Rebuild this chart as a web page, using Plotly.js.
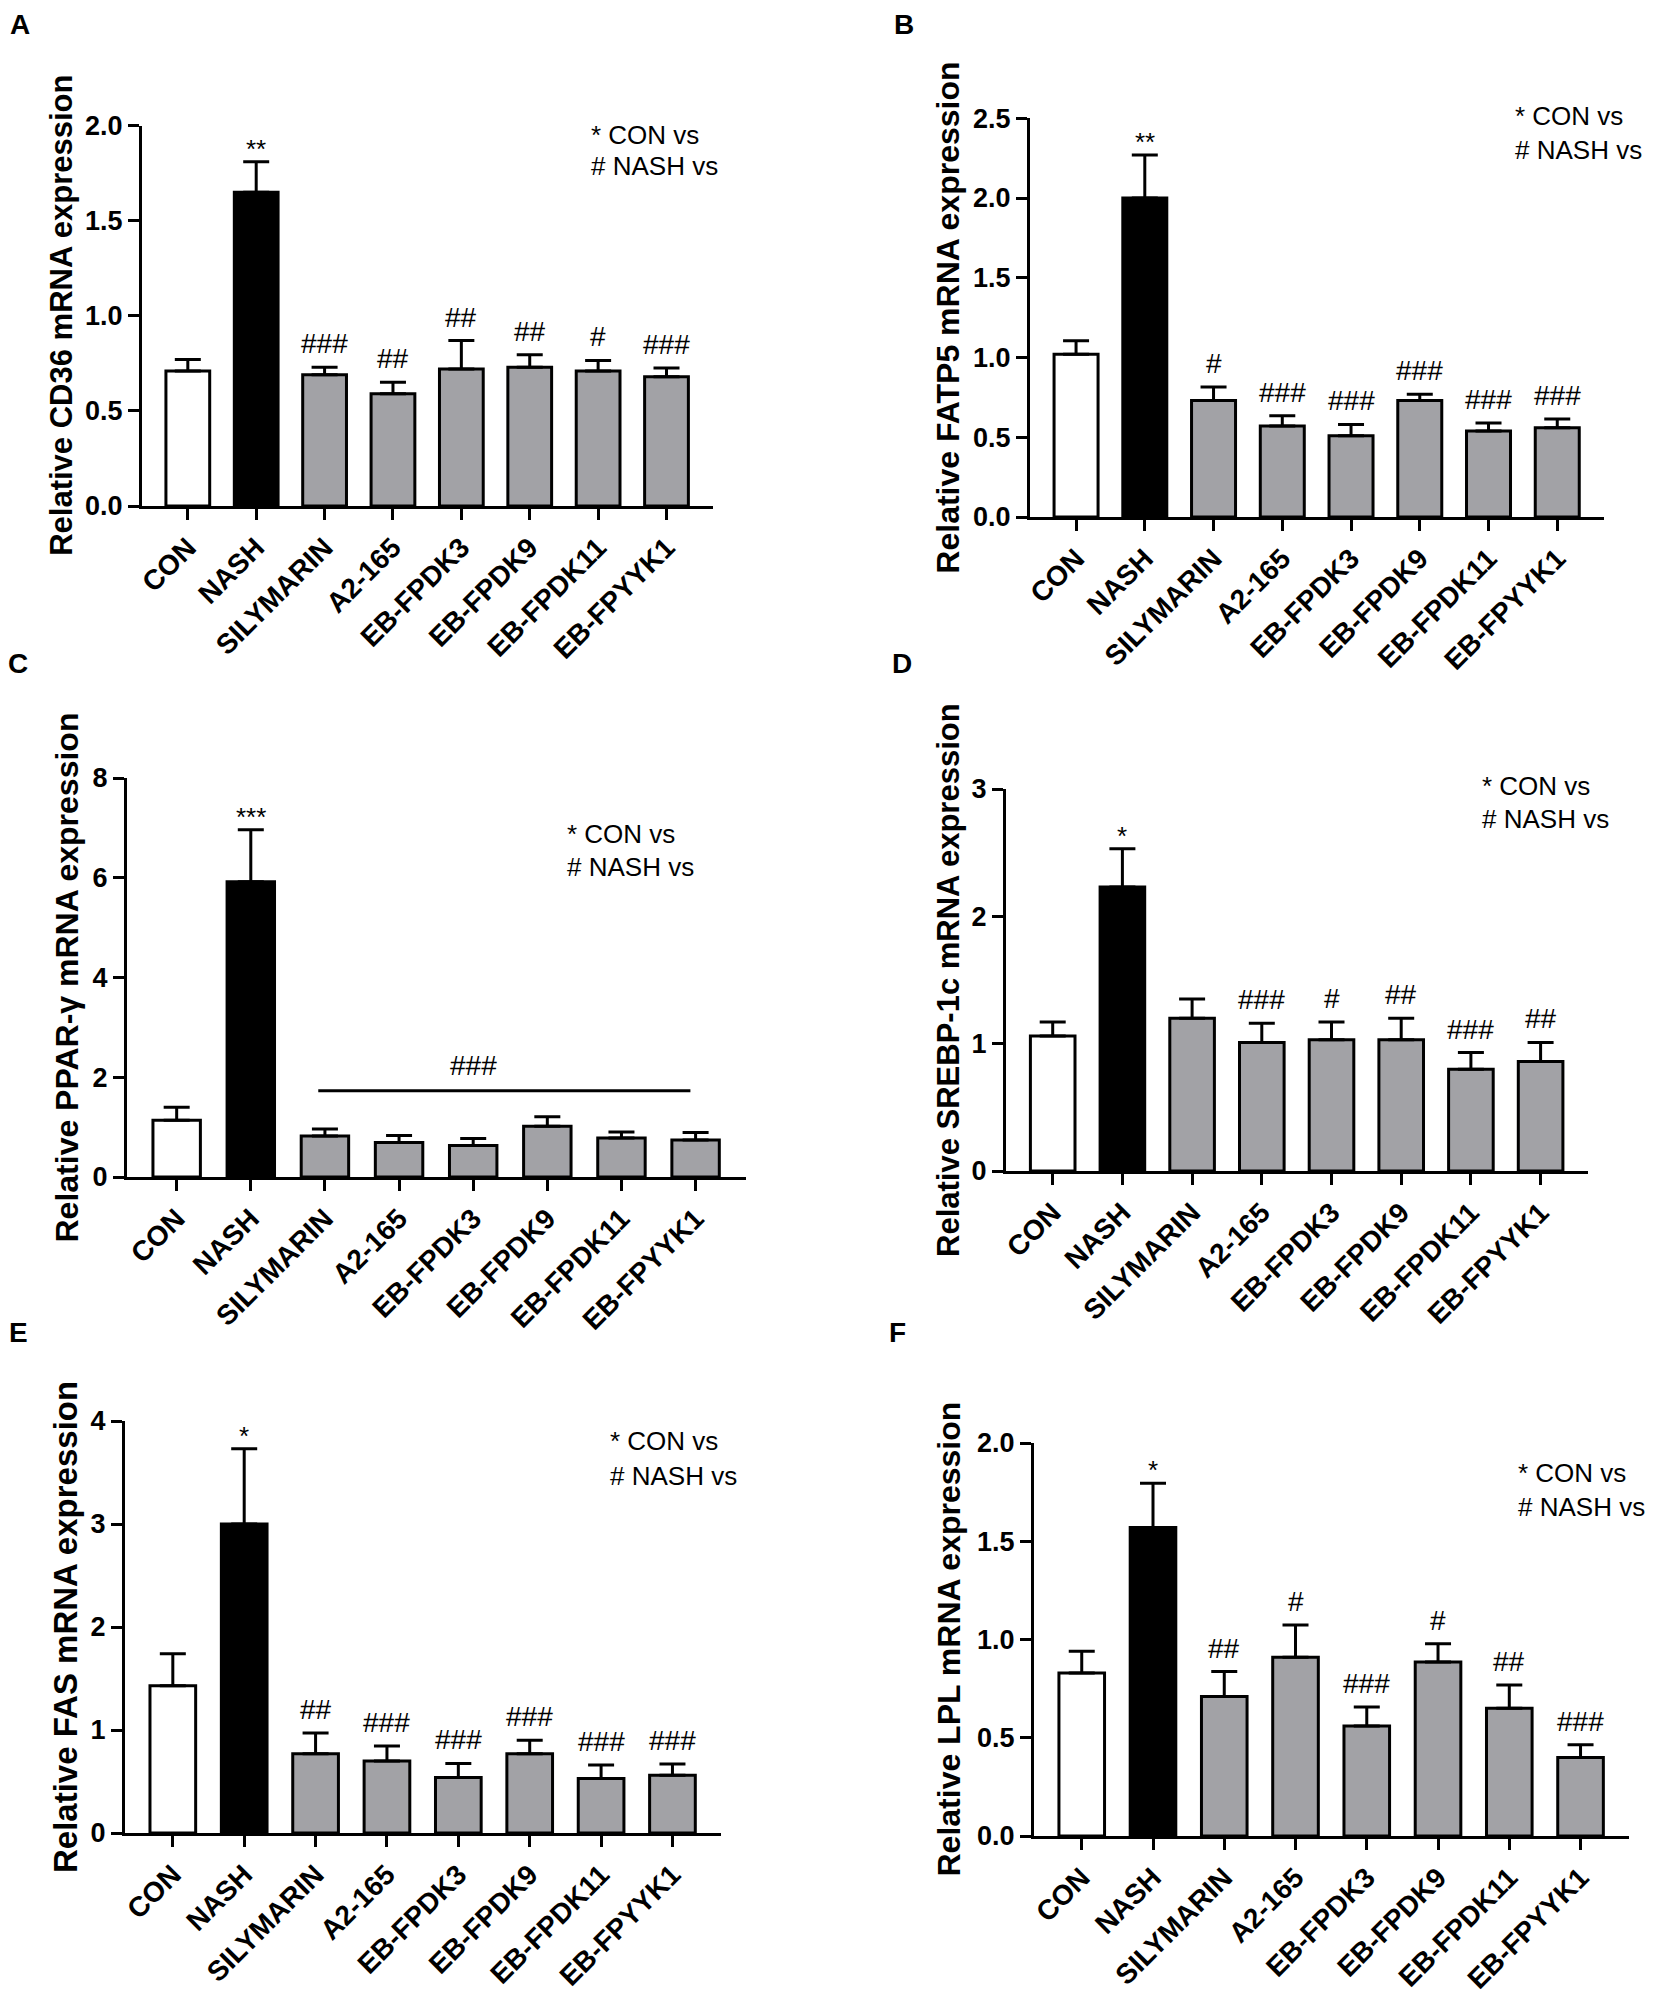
<!DOCTYPE html>
<html><head><meta charset="utf-8">
<script src="https://cdn.plot.ly/plotly-3.0.1.min.js"></script>
<style>html,body{margin:0;padding:0;background:#fff}#chart{width:1654px;height:2008px}</style>
</head><body><div id="chart"></div>
<script>
// ---------- data ----------
const categories = ['CON','NASH','SILYMARIN','A2-165','EB-FPDK3','EB-FPDK9','EB-FPDK11','EB-FPYYK1'];

const cd36Mean = [0.71, 1.65, 0.69, 0.59, 0.72, 0.73, 0.71, 0.68];
const cd36Err  = [0.06, 0.16, 0.04, 0.06, 0.15, 0.065, 0.055, 0.045];
const cd36Sig  = ['', '**', '###', '##', '##', '##', '#', '###'];

const fatp5Mean = [1.02, 2.00, 0.73, 0.57, 0.51, 0.73, 0.54, 0.56];
const fatp5Err  = [0.085, 0.27, 0.085, 0.065, 0.07, 0.04, 0.05, 0.055];
const fatp5Sig  = ['', '**', '#', '###', '###', '###', '###', '###'];

const pparMean = [1.14, 5.92, 0.82, 0.69, 0.63, 1.02, 0.78, 0.74];
const pparErr  = [0.26, 1.04, 0.14, 0.14, 0.14, 0.19, 0.12, 0.15];
const pparSig  = ['', '***', '', '', '', '', '', ''];
const pparBracketStart = 1.91, pparBracketEnd = 6.93, pparBracketY = 1.73;
const pparBracketSig = '###', pparBracketSigAt = 4;

const srebpMean = [1.06, 2.23, 1.20, 1.01, 1.03, 1.03, 0.80, 0.86];
const srebpErr  = [0.11, 0.30, 0.15, 0.15, 0.14, 0.17, 0.13, 0.15];
const srebpSig  = ['', '*', '', '###', '#', '##', '###', '##'];

const fasMean = [1.43, 3.00, 0.77, 0.70, 0.54, 0.77, 0.53, 0.56];
const fasErr  = [0.31, 0.73, 0.20, 0.145, 0.135, 0.13, 0.13, 0.11];
const fasSig  = ['', '*', '##', '###', '###', '###', '###', '###'];

const lplMean = [0.83, 1.57, 0.71, 0.91, 0.56, 0.885, 0.65, 0.40];
const lplErr  = [0.11, 0.225, 0.127, 0.164, 0.096, 0.094, 0.118, 0.064];
const lplSig  = ['', '*', '##', '#', '###', '#', '##', '###'];

const legendLine1 = '* CON vs';
const legendLine2 = '# NASH vs';

// ---------- styling / layout ----------
const W = 1654, H = 2008;
const FONT = 'Arial, "Liberation Sans", Helvetica, sans-serif';
const barColors = ['#ffffff', '#000000', '#a2a2a6', '#a2a2a6', '#a2a2a6', '#a2a2a6', '#a2a2a6', '#a2a2a6'];

const panels = [
  {letter:'A', mean:cd36Mean, err:cd36Err, sig:cd36Sig, title:'Relative CD36 mRNA expression', titleSize:31,
   ymax:2.0, dtick:0.5, fmt:'.1f', px:[142,713], py:[125.6,506], titleX:62, letterXY:[20,25], legX:589, legY:[134.5,166]},
  {letter:'B', mean:fatp5Mean, err:fatp5Err, sig:fatp5Sig, title:'Relative FATP5 mRNA expression', titleSize:32,
   ymax:2.5, dtick:0.5, fmt:'.1f', px:[1030,1604], py:[118.3,517], titleX:948, letterXY:[904,25], legX:1513, legY:[116,150]},
  {letter:'C', mean:pparMean, err:pparErr, sig:pparSig, title:'Relative PPAR-γ mRNA expression', titleSize:32,
   ymax:8, dtick:2, fmt:'d', px:[127,746], py:[778,1177], titleX:66, letterXY:[18,663], legX:565, legY:[834,867]},
  {letter:'D', mean:srebpMean, err:srebpErr, sig:srebpSig, title:'Relative SREBP-1c mRNA expression', titleSize:31,
   ymax:3, dtick:1, fmt:'d', px:[1006,1588], py:[789,1171], titleX:948, letterXY:[902,663], legX:1480, legY:[786,819]},
  {letter:'E', mean:fasMean, err:fasErr, sig:fasSig, title:'Relative FAS mRNA expression', titleSize:33,
   ymax:4, dtick:1, fmt:'d', px:[125,721], py:[1421,1833], titleX:65, letterXY:[18,1332], legX:608, legY:[1441,1476]},
  {letter:'F', mean:lplMean, err:lplErr, sig:lplSig, title:'Relative LPL mRNA expression', titleSize:32,
   ymax:2.0, dtick:0.5, fmt:'.1f', px:[1034,1629], py:[1443,1836], titleX:948, letterXY:[897,1332], legX:1516, legY:[1473,1507]}
];

const traces = [];
const layout = {
  width: W, height: H, margin:{l:0,r:0,t:0,b:0}, showlegend:false,
  paper_bgcolor:'#fff', plot_bgcolor:'rgba(0,0,0,0)', annotations:[], shapes:[],
  font:{family:FONT, color:'#000'}
};

panels.forEach((p, i) => {
  const n = i === 0 ? '' : String(i + 1);
  const xa = 'x' + n, ya = 'y' + n;
  traces.push({
    type:'bar', x:categories, y:p.mean, xaxis:xa, yaxis:ya, width:0.64,
    marker:{color:barColors, line:{color:'#000', width:3}},
    error_y:{type:'data', symmetric:false, array:p.err, arrayminus:p.err.map(() => 0),
             color:'#000', thickness:3, width:13},
    hoverinfo:'skip'
  });
  layout['xaxis' + n] = {
    domain:[p.px[0]/W, p.px[1]/W], anchor:ya, type:'category', range:[-0.67, 7.68],
    showline:true, linecolor:'#000', linewidth:3, ticks:'outside', ticklen:11, tickwidth:3, tickcolor:'#000',
    tickangle:-45, tickfont:{family:FONT, size:28, color:'#000', weight:'bold'},
    showgrid:false, zeroline:false, fixedrange:true
  };
  layout['yaxis' + n] = {
    domain:[1 - p.py[1]/H, 1 - p.py[0]/H], anchor:xa, range:[0, p.ymax], tick0:0, dtick:p.dtick, tickformat:p.fmt,
    showline:true, linecolor:'#000', linewidth:3, ticks:'outside', ticklen:11, tickwidth:3, tickcolor:'#000',
    tickfont:{family:FONT, size:27, color:'#000', weight:'bold'},
    showgrid:false, zeroline:false, fixedrange:true
  };
  // panel letter
  layout.annotations.push({xref:'paper', yref:'paper', x:p.letterXY[0]/W, y:1 - p.letterXY[1]/H,
    text:p.letter, showarrow:false, xanchor:'center', yanchor:'middle',
    font:{family:FONT, size:28, color:'#000', weight:'bold'}});
  // y title
  layout.annotations.push({xref:'paper', yref:'paper', x:p.titleX/W, y:1 - (p.py[0] + p.py[1])/2/H,
    text:p.title, textangle:-90, showarrow:false, xanchor:'center', yanchor:'middle',
    font:{family:FONT, size:p.titleSize, color:'#000', weight:'bold'}});
  // legend text
  [legendLine1, legendLine2].forEach((t, k) => {
    layout.annotations.push({xref:'paper', yref:'paper', x:p.legX/W, y:1 - p.legY[k]/H,
      text:t, showarrow:false, xanchor:'left', yanchor:'middle',
      font:{family:FONT, size:26, color:'#000'}});
  });
  // significance marks
  p.sig.forEach((s, j) => {
    if (!s) return;
    const star = s.indexOf('*') >= 0;
    layout.annotations.push({xref:xa, yref:ya, x:j, y:p.mean[j] + p.err[j],
      text:s, showarrow:false, xanchor:'center', yanchor:'bottom', yshift: star ? -4 : 6,
      font:{family:FONT, size: star ? 26 : 28, color:'#000'}});
  });
});

// bracket in panel C
layout.shapes.push({type:'line', xref:'x3', yref:'y3', x0:pparBracketStart, x1:pparBracketEnd,
  y0:pparBracketY, y1:pparBracketY, line:{color:'#000', width:3}});
layout.annotations.push({xref:'x3', yref:'y3', x:pparBracketSigAt, y:pparBracketY, text:pparBracketSig,
  showarrow:false, xanchor:'center', yanchor:'bottom', yshift:8, font:{family:FONT, size:28, color:'#000'}});

Plotly.newPlot('chart', traces, layout, {staticPlot:true, displayModeBar:false});
</script>
</body></html>
